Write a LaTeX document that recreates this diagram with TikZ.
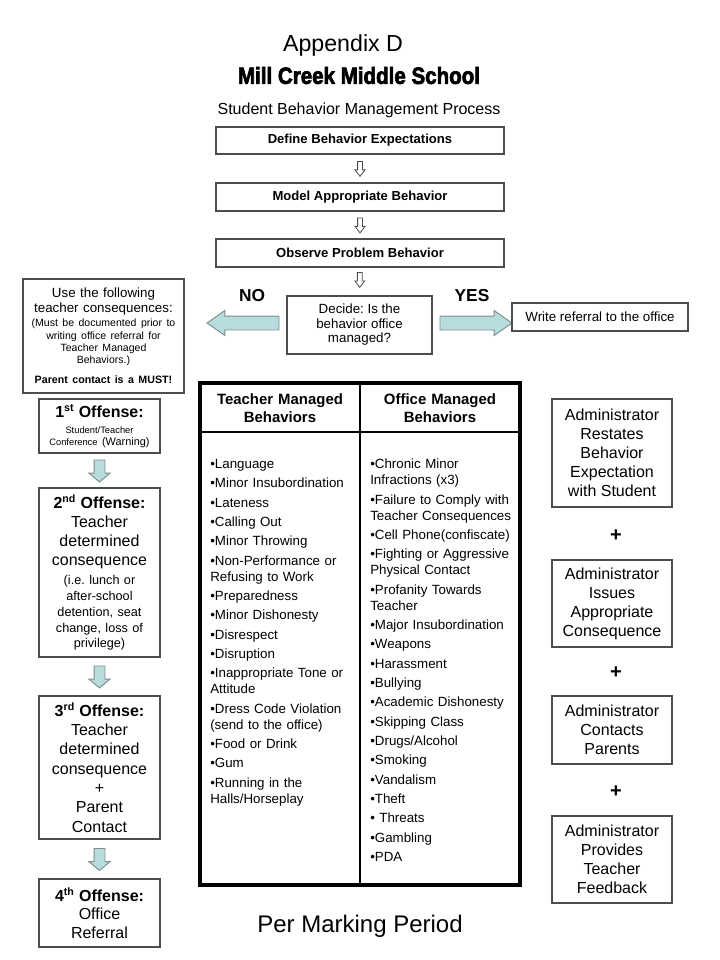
\documentclass[tikz,border=0pt]{standalone}
\usepackage{fontspec}
\setmainfont{Liberation Sans}
\newfontfamily\titlefont{Liberation Sans}[BoldFeatures={FakeBold=3}]
\usetikzlibrary{shapes.arrows,calc,positioning}
\definecolor{boxgray}{HTML}{4D4D4D}
\definecolor{arrowblue}{HTML}{B7DCDE}
\definecolor{arrowgray}{HTML}{7F8C8C}
\frenchspacing
\tikzset{
  stepbox/.style={draw=boxgray,line width=0.8pt,inner sep=0pt,align=center},
  itemlist/.style={anchor=north west,inner sep=0pt,align=left,text width=135pt,
    font=\fontsize{10}{12}\selectfont},
  headcell/.style={align=center,text width=110pt,inner sep=0pt,
    font=\bfseries\fontsize{11.2}{13.5}\selectfont},
  hollowarrow/.style={single arrow,draw=boxgray,fill=white,line width=0.6pt,
    inner sep=1.5pt,minimum height=11.25pt,minimum width=6.75pt,
    single arrow head extend=1.875pt,single arrow tip angle=74,rotate=-90,anchor=tail},
  sidearrow/.style={single arrow,draw=arrowgray,fill=arrowblue,line width=0.7pt,
    inner sep=4.875pt,minimum height=54pt,minimum width=18pt,
    single arrow head extend=4.125pt,single arrow tip angle=70,anchor=tail},
  downarrow/.style={single arrow,draw=arrowgray,fill=arrowblue,line width=0.7pt,
    inner sep=3.75pt,minimum height=16.5pt,minimum width=15pt,
    single arrow head extend=3.75pt,single arrow tip angle=100,rotate=-90,anchor=tail},
  plus/.style={font=\bfseries\fontsize{15}{15}\selectfont,inner sep=0pt}
}
\begin{document}
\begin{tikzpicture}[x=0.75pt,y=-0.75pt]
\useasboundingbox (0,0) rectangle (720,960);
% titles
\node[font=\fontsize{17.4}{20}\selectfont] (appendix) at (343,46) {Appendix D};
\node[inner sep=0pt] (school) at (359,75.5)
  {\resizebox{181.5pt}{12.75pt}{\titlefont\bfseries Mill Creek Middle School}};
\node[font=\fontsize{12}{14}\selectfont] (process) at (359,110) {Student Behavior Management Process};
% main steps
\node[stepbox,minimum width=216pt,minimum height=20.25pt,font=\bfseries\fontsize{9.8}{12}\selectfont]
  (define) at (360,140.5) {Define Behavior Expectations};
\node[stepbox,minimum width=216pt,minimum height=21pt,font=\bfseries\fontsize{9.8}{12}\selectfont]
  (model) at (360,197) {Model Appropriate Behavior};
\node[stepbox,minimum width=216pt,minimum height=21pt,font=\bfseries\fontsize{9.8}{12}\selectfont]
  (observe) at (360,253) {Observe Problem Behavior};
\node[stepbox,minimum width=108.75pt,minimum height=43.5pt,font=\fontsize{10}{10.9}\selectfont]
  (decide) at (359.5,325) {Decide: Is the\\behavior office\\managed?};
\node[hollowarrow] (a1) at ($(define.south)!0.5!(model.north)+(0,-7.5)$) {};
\node[hollowarrow] (a2) at ($(model.south)!0.5!(observe.north)+(0,-7.5)$) {};
\node[hollowarrow] (a3) at ($(observe.south)!0.5!(decide.north)+(0,-9.5)$) {};
% no / yes
\node[font=\bfseries\fontsize{13}{15}\selectfont] (no) at (252,296) {NO};
\node[font=\bfseries\fontsize{13}{15}\selectfont] (yes) at (472,296) {YES};
\node[sidearrow,rotate=180] (noarrow) at ($(decide.west)+(-7,-2)$) {};
\node[sidearrow] (yesarrow) at ($(decide.east)+(7,-2)$) {};
\node[stepbox,minimum width=132pt,minimum height=21pt,font=\fontsize{10}{12}\selectfont]
  (referral) at (600,317) {Write referral to the office};
% teacher consequences
\node[stepbox,minimum width=120.75pt,minimum height=85.5pt,text width=118pt] (note) at (103.5,336)
  {{\fontsize{10}{11.25}\selectfont Use the following\\teacher consequences:\par}\vspace{1.2pt}
   {\fontsize{7.9}{9.3}\selectfont (Must be documented prior to\\writing office referral for\\Teacher Managed\\Behaviors.)\par}\vspace{5.7pt}
   {\bfseries\fontsize{8}{9.3}\selectfont Parent contact is a MUST!\par}};
\node[stepbox,minimum width=90.75pt,minimum height=40.5pt,text width=88pt] (off1) at (99.5,426)
  {{\bfseries\fontsize{12}{14}\selectfont 1\textsuperscript{st} Offense:\par}\vspace{3pt}
   {\fontsize{7}{9}\selectfont Student/Teacher\\Conference {\fontsize{8.2}{9}\selectfont(Warning)}\par}};
\node[stepbox,minimum width=90.75pt,minimum height=126.75pt,text width=88pt] (off2) at (99.5,572.5)
  {{\bfseries\fontsize{12}{14}\selectfont 2\textsuperscript{nd} Offense:\par}
   {\fontsize{12}{14.25}\selectfont Teacher\\determined\\consequence\par}\vspace{3pt}
   {\fontsize{9.5}{11.8}\selectfont (i.e. lunch or\\after-school\\detention, seat\\change, loss of\\privilege)\par}};
\node[stepbox,minimum width=90.75pt,minimum height=107.25pt,text width=88pt] (off3) at (99.5,767.5)
  {{\bfseries\fontsize{12}{14.5}\selectfont 3\textsuperscript{rd} Offense:\par}
   {\fontsize{12}{14.5}\selectfont Teacher\\determined\\consequence\\+\\Parent\\Contact\par}};
\node[stepbox,minimum width=90.75pt,minimum height=51pt,text width=88pt] (off4) at (99.5,913)
  {{\bfseries\fontsize{12}{13.9}\selectfont 4\textsuperscript{th} Offense:\par}
   {\fontsize{12}{13.9}\selectfont Office\\Referral\par}};
\node[downarrow] (d1) at ($(off1.south)!0.5!(off2.north)+(0,-11)$) {};
\node[downarrow] (d2) at ($(off2.south)!0.5!(off3.north)+(0,-11)$) {};
\node[downarrow] (d3) at ($(off3.south)!0.5!(off4.north)+(0,-11)$) {};
% behavior table
\draw[line width=2.4pt] (200,383) rectangle (520,885);
\draw[line width=1.2pt] (200,432) -- (520,432);
\draw[line width=1.2pt] (360,383) -- (360,885);
\node[headcell] (teacherhead) at (280,408) {Teacher Managed\\Behaviors};
\node[headcell] (officehead) at (440,408) {Office Managed\\Behaviors};
\node[itemlist] (teacherlist) at (210,459)
  {•Language\\[2.5pt]•Minor Insubordination\\[2.5pt]•Lateness\\[2.5pt]•Calling Out\\[2.5pt]%
   •Minor Throwing\\[2.5pt]•Non-Performance or\\Refusing to Work\\[2.5pt]•Preparedness\\[2.5pt]%
   •Minor Dishonesty\\[2.5pt]•Disrespect\\[2.5pt]•Disruption\\[2.5pt]•Inappropriate Tone or\\Attitude\\[2.5pt]%
   •Dress Code Violation\\(send to the office)\\[2.5pt]•Food or Drink\\[2.5pt]•Gum\\[2.5pt]%
   •Running in the\\Halls/Horseplay};
\node[itemlist] (officelist) at (370,459)
  {•Chronic Minor\\Infractions (x3)\\[2.5pt]•Failure to Comply with\\Teacher Consequences\\[2.5pt]%
   •Cell Phone(confiscate)\\[2.5pt]•Fighting or Aggressive\\Physical Contact\\[2.5pt]%
   •Profanity Towards\\Teacher\\[2.5pt]•Major Insubordination\\[2.5pt]•Weapons\\[2.5pt]%
   •Harassment\\[2.5pt]•Bullying\\[2.5pt]•Academic Dishonesty\\[2.5pt]•Skipping Class\\[2.5pt]%
   •Drugs/Alcohol\\[2.5pt]•Smoking\\[2.5pt]•Vandalism\\[2.5pt]•Theft\\[2.5pt]• Threats\\[2.5pt]%
   •Gambling\\[2.5pt]•PDA};
\node[font=\fontsize{18}{20}\selectfont] (period) at (360,926) {Per Marking Period};
% administrator steps
\node[stepbox,minimum width=90pt,minimum height=81pt,font=\fontsize{12}{14.25}\selectfont]
  (adm1) at (612,453) {Administrator\\Restates\\Behavior\\Expectation\\with Student};
\node[stepbox,minimum width=90pt,minimum height=65.25pt,font=\fontsize{12}{14.25}\selectfont]
  (adm2) at (612,603.5) {Administrator\\Issues\\Appropriate\\Consequence};
\node[stepbox,minimum width=90pt,minimum height=51pt,font=\fontsize{12}{14.25}\selectfont]
  (adm3) at (612,730) {Administrator\\Contacts\\Parents};
\node[stepbox,minimum width=90pt,minimum height=65.25pt,font=\fontsize{12}{14.25}\selectfont]
  (adm4) at (612,859.5) {Administrator\\Provides\\Teacher\\Feedback};
\node[plus] (p1) at ($(adm1.south)!0.5!(adm2.north)+(4,2)$) {+};
\node[plus] (p2) at ($(adm2.south)!0.5!(adm3.north)+(4,1)$) {+};
\node[plus] (p3) at ($(adm3.south)!0.5!(adm4.north)+(4,2)$) {+};
\end{tikzpicture}
\end{document}
